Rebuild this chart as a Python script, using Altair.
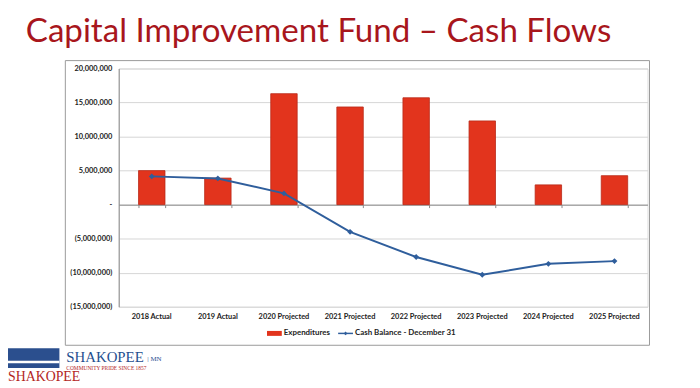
import altair as alt
import pandas as pd

categories = ["2018 Actual", "2019 Actual", "2020 Projected", "2021 Projected",
              "2022 Projected", "2023 Projected", "2024 Projected", "2025 Projected"]
expenditures = [5.0e6, 3.9e6, 16.3e6, 14.35e6, 15.7e6, 12.3e6, 2.9e6, 4.25e6]
cash_balance = [4.15e6, 3.85e6, 1.65e6, -4.0e6, -7.7e6, -10.3e6, -8.7e6, -8.3e6]
y_ticks = [-15000000, -10000000, -5000000, 0, 5000000, 10000000, 15000000, 20000000]
legend_labels = ["Expenditures", "Cash  Balance - December 31"]
title_text = "Capital Improvement Fund \u2013 Cash Flows"
logo_name = "SHAKOPEE"
logo_sub = "| MN"
logo_motto = "COMMUNITY PRIDE SINCE 1857"

df = pd.DataFrame({"category": categories, "exp": expenditures, "cash": cash_balance})
one = pd.DataFrame({"a": [0]})

W, H = 535, 241
Y_MIN, Y_MAX = y_ticks[0], y_ticks[-1]
ZERO_OFFSET = -H * (0 - Y_MIN) / (Y_MAX - Y_MIN)

FONT = "Lato"
RED = "#E2341D"
BLUE = "#2F5E9C"

xscale = alt.Scale(domain=categories, paddingInner=0.6, paddingOuter=0.3)
yscale = alt.Scale(domain=[Y_MIN, Y_MAX], nice=False, zero=False)

label_expr = ("datum.value == 0 ? '-' : (datum.value < 0 ? '(' + format(-datum.value, ',') + ')' "
              ": format(datum.value, ','))")
yaxis = alt.Axis(values=y_ticks, labelExpr=label_expr, title=None, grid=True,
                 gridColor="#d6d6d6", gridWidth=1, domain=True, domainColor="#8a8a8a",
                 ticks=False, labelPadding=7, labelFont=FONT, labelFontSize=7.5,
                 labelFontWeight="bold", labelColor="#222222")

bars = alt.Chart(df).mark_bar(color=RED, stroke="#B82818", strokeWidth=0.8).encode(
    x=alt.X("category:N", sort=categories, scale=xscale,
            axis=alt.Axis(orient="bottom", title=None, domain=False, ticks=False, labelAngle=0,
                          labelPadding=6, labelFont=FONT, labelFontSize=7.5, labelFontWeight="bold",
                          labelColor="#222222", grid=False)),
    y=alt.Y("exp:Q", scale=yscale, axis=yaxis),
)

zero_axis = alt.Chart(df).mark_point(opacity=0).encode(
    x=alt.X("category:N", sort=categories, scale=xscale,
            axis=alt.Axis(orient="bottom", offset=ZERO_OFFSET, labels=False, ticks=True,
                          tickBand="extent", tickSize=3, tickColor="#8a8a8a", domain=True,
                          domainColor="#8a8a8a", title=None, grid=False)),
    y=alt.Y("cash:Q", scale=yscale, axis=yaxis),
)

line = alt.Chart(df).mark_line(color=BLUE, strokeWidth=2).encode(
    x=alt.X("category:N", sort=categories, scale=xscale, axis=None),
    y=alt.Y("cash:Q", scale=yscale, axis=yaxis),
)
points = alt.Chart(df).mark_point(shape="diamond", filled=True, size=35, color=BLUE, opacity=1).encode(
    x=alt.X("category:N", sort=categories, scale=xscale, axis=None),
    y=alt.Y("cash:Q", scale=yscale, axis=yaxis),
)

frame = alt.Chart(one).mark_rect(fill=None, stroke="#9a9a9a", strokeWidth=1).encode(
    x=alt.value(-54), x2=alt.value(537), y=alt.value(-8), y2=alt.value(280))

# legend
leg_y = 268
leg_red = alt.Chart(one).mark_rect(color=RED).encode(
    x=alt.value(150), x2=alt.value(165), y=alt.value(leg_y - 2.5), y2=alt.value(leg_y + 2.5))
leg_red_t = alt.Chart(one).mark_text(align="left", baseline="middle", font=FONT, fontSize=8,
                                     fontWeight="bold", color="#222222").encode(
    x=alt.value(167), y=alt.value(leg_y), text=alt.value(legend_labels[0]))
leg_blue = alt.Chart(one).mark_rule(color=BLUE, strokeWidth=1.5).encode(
    x=alt.value(222), x2=alt.value(237), y=alt.value(leg_y))
leg_blue_p = alt.Chart(one).mark_point(shape="diamond", filled=True, size=14, color=BLUE, opacity=1).encode(
    x=alt.value(229.5), y=alt.value(leg_y))
leg_blue_t = alt.Chart(one).mark_text(align="left", baseline="middle", font=FONT, fontSize=8,
                                      fontWeight="bold", color="#222222").encode(
    x=alt.value(239), y=alt.value(leg_y), text=alt.value(legend_labels[1]))

# logo (bottom left)
logo_box = alt.Chart(one).mark_rect(color="#2B4F8E").encode(
    x=alt.value(-112), x2=alt.value(-60), y=alt.value(283), y2=alt.value(303))
logo_wave = alt.Chart(one).mark_rule(color="white", strokeWidth=2.5).encode(
    x=alt.value(-112), x2=alt.value(-60), y=alt.value(297))
logo_red = alt.Chart(one).mark_text(align="left", baseline="alphabetic", font="Liberation Serif",
                                    fontSize=14, color="#B3261E").encode(
    x=alt.value(-112), y=alt.value(316), text=alt.value(logo_name))
logo_blue = alt.Chart(one).mark_text(align="left", baseline="alphabetic", font="Liberation Serif",
                                     fontSize=15, color="#1F4F8F").encode(
    x=alt.value(-53), y=alt.value(297), text=alt.value(logo_name))
logo_mn = alt.Chart(one).mark_text(align="left", baseline="alphabetic", font="Liberation Serif",
                                   fontSize=7, color="#1F4F8F").encode(
    x=alt.value(29), y=alt.value(296), text=alt.value(logo_sub))
logo_motto_t = alt.Chart(one).mark_text(align="left", baseline="alphabetic", font="Liberation Serif",
                                        fontSize=5.5, color="#B3261E").encode(
    x=alt.value(-53), y=alt.value(305), text=alt.value(logo_motto))

chart = alt.layer(
    frame, bars, zero_axis, line, points,
    leg_red, leg_red_t, leg_blue, leg_blue_p, leg_blue_t,
    logo_box, logo_wave, logo_red, logo_blue, logo_mn, logo_motto_t,
).resolve_axis(x="independent").properties(
    width=W, height=H,
    autosize=alt.AutoSizeParams(type="none"),
    padding={"left": 112, "top": 59, "right": 45, "bottom": 78},
    title=alt.TitleParams(title_text, anchor="start", frame="group", dx=-94, offset=11,
                          font=FONT, fontSize=33.5, fontWeight="normal", color="#A8161C"),
).configure_view(stroke=None).configure(background="white")

chart.save("out.html", embed_options={"renderer": "svg", "actions": False})
